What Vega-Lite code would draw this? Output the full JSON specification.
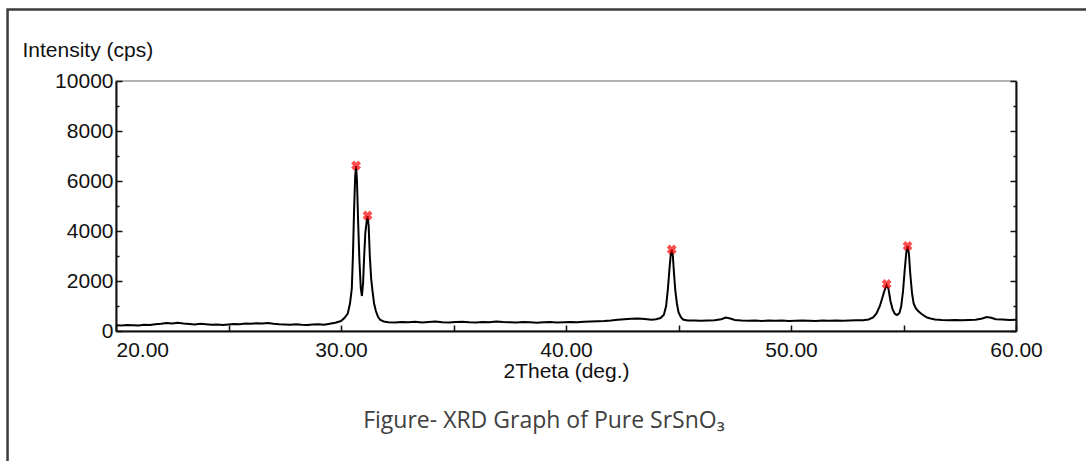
{
  "$schema": "https://vega.github.io/schema/vega-lite/v6.json",
  "width": 900,
  "height": 250,
  "autosize": {"type": "none"},
  "padding": {"left": 116, "top": 81, "right": 70, "bottom": 130},
  "background": "white",
  "config": {
    "view": {"stroke": "#9a9a9a", "strokeWidth": 1.5},
    "axis": {
      "grid": false,
      "domainColor": "#111111",
      "domainWidth": 2,
      "tickColor": "#111111",
      "tickWidth": 1.5,
      "labelFont": "Liberation Sans",
      "labelFontSize": 21,
      "labelColor": "#111111",
      "titleFont": "Liberation Sans",
      "titleFontSize": 21,
      "titleFontWeight": "normal",
      "titleColor": "#111111"
    }
  },
  "resolve": {"axis": {"x": "independent", "y": "independent"}},
  "layer": [
    {
      "data": {"values": [{"caption": "Figure- XRD Graph of Pure SrSnO₃"}]},
      "mark": {"type": "rect", "fill": "transparent", "stroke": "#3c3c3c", "strokeWidth": 2.5, "clip": false},
      "encoding": {
        "x": {"datum": 15.18, "type": "quantitative", "scale": {"domain": [20, 60], "nice": false, "zero": false}, "axis": null},
        "x2": {"datum": 70},
        "y": {"datum": 12860, "type": "quantitative", "scale": {"domain": [0, 10000], "nice": false}, "axis": null},
        "y2": {"datum": -9000}
      }
    },
    {
      "data": {"values": [{"caption": "Figure- XRD Graph of Pure SrSnO₃"}]},
      "mark": {"type": "text", "font": "Open Sans", "fontSize": 23, "color": "#404040", "align": "center", "baseline": "middle", "clip": false},
      "encoding": {
        "x": {"datum": 39.02, "type": "quantitative", "axis": null},
        "y": {"datum": -3600, "type": "quantitative", "axis": null},
        "text": {"field": "caption"}
      }
    },
    {
      "data": {"values": [
        {"t":20.0,"c":230},{"t":20.25,"c":220},{"t":20.5,"c":240},{"t":20.75,"c":230},{"t":21.0,"c":220},{"t":21.25,"c":250},{"t":21.5,"c":240},{"t":21.75,"c":270},{"t":22.0,"c":290},{"t":22.25,"c":320},{"t":22.5,"c":300},{"t":22.75,"c":330},{"t":23.0,"c":300},{"t":23.25,"c":280},{"t":23.5,"c":260},{"t":23.75,"c":290},{"t":24.0,"c":270},{"t":24.25,"c":250},{"t":24.5,"c":260},{"t":24.75,"c":240},{"t":25.0,"c":260},{"t":25.25,"c":280},{"t":25.5,"c":270},{"t":25.75,"c":300},{"t":26.0,"c":290},{"t":26.25,"c":310},{"t":26.5,"c":300},{"t":26.75,"c":320},{"t":27.0,"c":290},{"t":27.25,"c":270},{"t":27.5,"c":260},{"t":27.75,"c":250},{"t":28.0,"c":270},{"t":28.25,"c":250},{"t":28.5,"c":240},{"t":28.75,"c":260},{"t":29.0,"c":270},{"t":29.25,"c":250},{"t":29.5,"c":290},{"t":29.75,"c":330},{"t":30.0,"c":400},{"t":30.15,"c":520},{"t":30.3,"c":700},{"t":30.4,"c":1100},{"t":30.48,"c":1700},{"t":30.53,"c":3000},{"t":30.58,"c":4800},{"t":30.63,"c":6200},{"t":30.67,"c":6600},{"t":30.71,"c":6000},{"t":30.76,"c":4400},{"t":30.82,"c":2800},{"t":30.88,"c":1700},{"t":30.93,"c":1400},{"t":30.98,"c":1900},{"t":31.03,"c":3000},{"t":31.08,"c":3900},{"t":31.13,"c":4300},{"t":31.18,"c":4600},{"t":31.23,"c":4200},{"t":31.28,"c":3000},{"t":31.34,"c":2100},{"t":31.4,"c":1600},{"t":31.47,"c":1100},{"t":31.55,"c":800},{"t":31.65,"c":560},{"t":31.75,"c":440},{"t":31.9,"c":380},{"t":32.1,"c":350},{"t":32.4,"c":340},{"t":32.7,"c":360},{"t":33.0,"c":350},{"t":33.3,"c":370},{"t":33.6,"c":340},{"t":33.9,"c":360},{"t":34.2,"c":380},{"t":34.5,"c":350},{"t":34.8,"c":340},{"t":35.1,"c":360},{"t":35.4,"c":370},{"t":35.7,"c":350},{"t":36.0,"c":340},{"t":36.3,"c":360},{"t":36.6,"c":350},{"t":36.9,"c":380},{"t":37.2,"c":360},{"t":37.5,"c":350},{"t":37.8,"c":340},{"t":38.1,"c":360},{"t":38.4,"c":350},{"t":38.7,"c":330},{"t":39.0,"c":350},{"t":39.3,"c":360},{"t":39.6,"c":340},{"t":39.9,"c":350},{"t":40.2,"c":360},{"t":40.5,"c":350},{"t":40.8,"c":370},{"t":41.1,"c":380},{"t":41.4,"c":390},{"t":41.7,"c":400},{"t":42.0,"c":420},{"t":42.3,"c":450},{"t":42.6,"c":470},{"t":42.9,"c":490},{"t":43.2,"c":500},{"t":43.5,"c":480},{"t":43.8,"c":450},{"t":44.0,"c":470},{"t":44.2,"c":520},{"t":44.35,"c":650},{"t":44.45,"c":1000},{"t":44.53,"c":1700},{"t":44.6,"c":2500},{"t":44.66,"c":3100},{"t":44.7,"c":3250},{"t":44.75,"c":3000},{"t":44.8,"c":2300},{"t":44.86,"c":1600},{"t":44.93,"c":1100},{"t":45.0,"c":750},{"t":45.1,"c":560},{"t":45.2,"c":460},{"t":45.4,"c":420},{"t":45.7,"c":420},{"t":46.0,"c":410},{"t":46.3,"c":420},{"t":46.6,"c":430},{"t":46.9,"c":470},{"t":47.1,"c":540},{"t":47.3,"c":500},{"t":47.5,"c":440},{"t":47.8,"c":420},{"t":48.1,"c":410},{"t":48.4,"c":420},{"t":48.7,"c":400},{"t":49.0,"c":420},{"t":49.3,"c":410},{"t":49.6,"c":420},{"t":49.9,"c":400},{"t":50.2,"c":410},{"t":50.5,"c":420},{"t":50.8,"c":410},{"t":51.1,"c":400},{"t":51.4,"c":420},{"t":51.7,"c":410},{"t":52.0,"c":420},{"t":52.3,"c":410},{"t":52.6,"c":420},{"t":52.9,"c":430},{"t":53.2,"c":430},{"t":53.45,"c":460},{"t":53.65,"c":540},{"t":53.8,"c":700},{"t":53.95,"c":1000},{"t":54.05,"c":1300},{"t":54.15,"c":1600},{"t":54.25,"c":1850},{"t":54.33,"c":1700},{"t":54.42,"c":1200},{"t":54.52,"c":850},{"t":54.62,"c":680},{"t":54.72,"c":640},{"t":54.82,"c":720},{"t":54.9,"c":1000},{"t":54.98,"c":1600},{"t":55.05,"c":2400},{"t":55.12,"c":3100},{"t":55.18,"c":3400},{"t":55.24,"c":3100},{"t":55.3,"c":2300},{"t":55.38,"c":1500},{"t":55.45,"c":1100},{"t":55.55,"c":900},{"t":55.65,"c":800},{"t":55.75,"c":720},{"t":55.9,"c":620},{"t":56.05,"c":540},{"t":56.2,"c":500},{"t":56.4,"c":460},{"t":56.7,"c":440},{"t":57.0,"c":430},{"t":57.3,"c":440},{"t":57.6,"c":430},{"t":57.9,"c":440},{"t":58.2,"c":450},{"t":58.5,"c":500},{"t":58.7,"c":560},{"t":58.9,"c":530},{"t":59.1,"c":470},{"t":59.4,"c":460},{"t":59.7,"c":440},{"t":60.0,"c":450}
      ]},
      "mark": {"type": "line", "color": "#000000", "strokeWidth": 2},
      "encoding": {
        "x": {
          "field": "t", "type": "quantitative",
          "axis": {
            "orient": "bottom",
            "values": [20, 25, 30, 35, 40, 45, 50, 55, 60],
            "labelExpr": "datum.value % 10 == 0 ? format(datum.value, '.2f') : ''",
            "labelFlush": false,
            "labelBound": false,
            "labelOverlap": false,
            "labelAlign": {"condition": {"test": "datum.value == 20", "value": "left"}, "value": "center"},
            "tickSize": -6,
            "labelPadding": 14,
            "title": "2Theta (deg.)",
            "titleBaseline": "middle",
            "titleY": 40
          }
        },
        "y": {
          "field": "c", "type": "quantitative",
          "axis": {
            "orient": "left",
            "values": [0, 1000, 2000, 3000, 4000, 5000, 6000, 7000, 8000, 9000, 10000],
            "labelExpr": "datum.value % 2000 == 0 ? '' + datum.value : ''",
            "labelOverlap": false,
            "labelBound": false,
            "tickSize": {"condition": {"test": "datum.value % 2000 == 0", "value": -6}, "value": -3},
            "labelPadding": 9,
            "title": "Intensity (cps)",
            "titleAngle": 0,
            "titleAlign": "left",
            "titleBaseline": "middle",
            "titleX": -94,
            "titleY": -31
          }
        }
      }
    },
    {
      "data": {"values": [
        {"t": 30.67, "c": 6620},
        {"t": 31.18, "c": 4620},
        {"t": 44.7, "c": 3260},
        {"t": 54.25, "c": 1880},
        {"t": 55.18, "c": 3400}
      ]},
      "mark": {"type": "point", "shape": "cross", "angle": 45, "filled": true, "color": "#ff0000", "size": 100},
      "encoding": {
        "x": {"field": "t", "type": "quantitative", "axis": null},
        "y": {
          "field": "c", "type": "quantitative",
          "axis": {
            "orient": "right",
            "values": [0, 1000, 2000, 3000, 4000, 5000, 6000, 7000, 8000, 9000, 10000],
            "labels": false,
            "title": null,
            "tickSize": {"condition": {"test": "datum.value % 2000 == 0", "value": -6}, "value": -3}
          }
        }
      }
    }
  ]
}
